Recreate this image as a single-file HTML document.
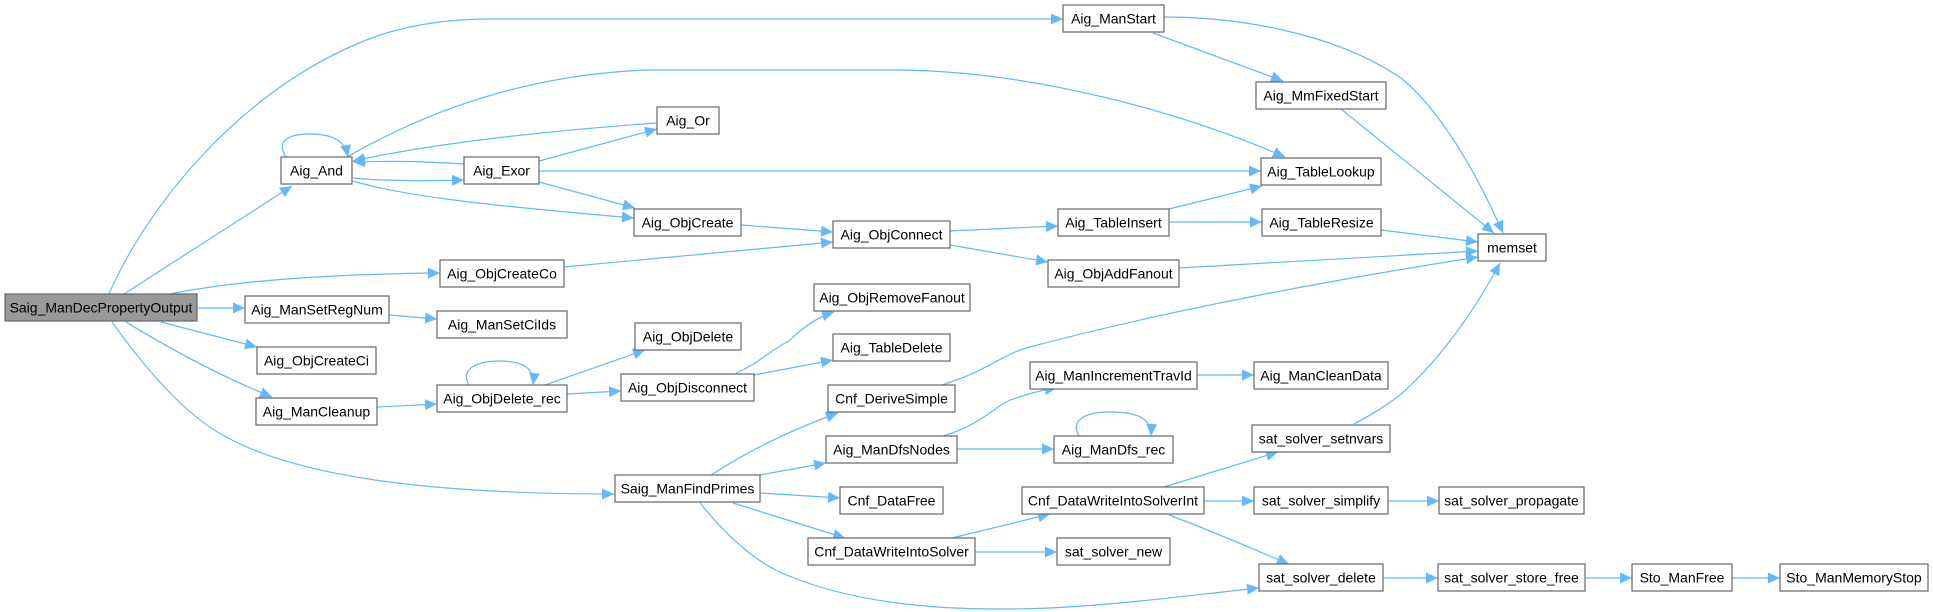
<!DOCTYPE html>
<html><head><meta charset="utf-8"><style>
html,body{margin:0;padding:0;background:#fff;}
svg{display:block;}
text{font-family:"Liberation Sans",Arial,sans-serif;font-size:14px;fill:#000;}
.b{fill:#fff;stroke:#666;stroke-width:1.2;}
.e{fill:none;stroke:#63b8ff;stroke-width:1.2;}
</style></head><body>
<svg width="1933" height="612" viewBox="0 0 1933 612" xmlns="http://www.w3.org/2000/svg">
<defs>
<marker id="a" markerUnits="userSpaceOnUse" markerWidth="13" markerHeight="11" refX="12" refY="5.5" orient="auto">
<path d="M0,0 L12,5.5 L0,11 Z" fill="#63b8ff"/>
</marker>
</defs>
<g class="e" marker-end="url(#a)">
<path d="M109,294 C150,200 250,80 380,35 Q430,19 490,19 L1063,19"/>
<path d="M124,294 L292,186"/>
<path d="M170,294 C240,280 330,274 440,273"/>
<path d="M197,308 L245,308"/>
<path d="M161,322 L257,347"/>
<path d="M126,322 C180,355 230,380 272,397"/>
<path d="M112,322 C150,375 190,420 232,440 C300,475 420,494 614,494"/>
<path d="M286,157 C275,140 290,134 310,134 C335,134 345,142 348,157"/>
<path d="M347,157 C420,115 520,75 647,70 L900,70 C1050,72 1200,120 1285,157"/>
<path d="M464,164 C420,161 390,161 353,162"/>
<path d="M657,123 C560,130 440,142 353,161"/>
<path d="M353,178 C380,181 430,181 464,180"/>
<path d="M353,181 C400,195 470,204 634,218"/>
<path d="M539,161 L657,129"/>
<path d="M539,171 L1261,171"/>
<path d="M539,182 L635,208"/>
<path d="M741,225 L833,232"/>
<path d="M564,267 L833,242"/>
<path d="M950,231 L1058,226"/>
<path d="M950,245 L1048,262"/>
<path d="M1169,209 L1262,186"/>
<path d="M1169,222 L1262,222"/>
<path d="M1164,17 C1230,17 1330,30 1401,78 C1440,110 1475,170 1503,233"/>
<path d="M1153,33 L1283,81"/>
<path d="M1341,109 L1494,233"/>
<path d="M1381,230 L1478,242"/>
<path d="M1179,268 L1478,251"/>
<path d="M942,385 C990,370 1000,355 1030,347 C1150,315 1300,285 1478,257"/>
<path d="M1354,424 C1370,415 1380,410 1400,395 C1440,360 1475,310 1500,263"/>
<path d="M469,385 C460,370 475,361 500,361 C525,361 535,370 533,385"/>
<path d="M545,385 L645,350"/>
<path d="M567,394 L621,391"/>
<path d="M377,407 L437,404"/>
<path d="M389,315 L437,319"/>
<path d="M736,373 C760,363 770,350 789,341 C800,330 815,318 834,312"/>
<path d="M754,375 L833,360"/>
<path d="M711,475 C750,450 790,430 838,413"/>
<path d="M760,475 L826,463"/>
<path d="M760,493 L840,498"/>
<path d="M733,503 L845,538"/>
<path d="M700,503 C730,540 760,565 789,576 C860,605 950,612 1050,608 C1130,604 1200,594 1259,588"/>
<path d="M943,436 C980,425 990,410 1010,400 C1025,395 1040,390 1057,388"/>
<path d="M957,449 L1054,449"/>
<path d="M1079,436 C1070,420 1085,412 1110,412 C1140,412 1152,420 1151,436"/>
<path d="M1197,375 L1254,375"/>
<path d="M952,538 L1050,514"/>
<path d="M975,552 L1057,552"/>
<path d="M1164,487 L1278,452"/>
<path d="M1204,501 L1254,501"/>
<path d="M1169,515 C1210,530 1250,548 1289,564"/>
<path d="M1388,501 L1439,501"/>
<path d="M1383,578 L1438,578"/>
<path d="M1585,578 L1632,578"/>
<path d="M1732,578 L1780,578"/>
</g>
<g>
<rect x="5" y="294" width="192" height="27" fill="#999" stroke="#666" stroke-width="1.2"/>
<text x="101" y="312.5" text-anchor="middle">Saig_ManDecPropertyOutput</text>
<rect class="b" x="281" y="157" width="71" height="27"/><text x="316.5" y="175.5" text-anchor="middle">Aig_And</text>
<rect class="b" x="464" y="157" width="75" height="27"/><text x="501.5" y="175.5" text-anchor="middle">Aig_Exor</text>
<rect class="b" x="657" y="107" width="62" height="27"/><text x="688" y="125.5" text-anchor="middle">Aig_Or</text>
<rect class="b" x="634" y="209" width="107" height="27"/><text x="687.5" y="227.5" text-anchor="middle">Aig_ObjCreate</text>
<rect class="b" x="440" y="260" width="124" height="27"/><text x="502" y="278.5" text-anchor="middle">Aig_ObjCreateCo</text>
<rect class="b" x="245" y="296" width="144" height="27"/><text x="317" y="314.5" text-anchor="middle">Aig_ManSetRegNum</text>
<rect class="b" x="437" y="311" width="130" height="27"/><text x="502" y="329.5" text-anchor="middle">Aig_ManSetCiIds</text>
<rect class="b" x="257" y="347" width="119" height="27"/><text x="316.5" y="365.5" text-anchor="middle">Aig_ObjCreateCi</text>
<rect class="b" x="256" y="398" width="121" height="27"/><text x="316.5" y="416.5" text-anchor="middle">Aig_ManCleanup</text>
<rect class="b" x="437" y="385" width="130" height="27"/><text x="502" y="403.5" text-anchor="middle">Aig_ObjDelete_rec</text>
<rect class="b" x="635" y="323" width="106" height="27"/><text x="688" y="341.5" text-anchor="middle">Aig_ObjDelete</text>
<rect class="b" x="621" y="374" width="133" height="27"/><text x="687.5" y="392.5" text-anchor="middle">Aig_ObjDisconnect</text>
<rect class="b" x="615" y="475" width="145" height="27"/><text x="687.5" y="493.5" text-anchor="middle">Saig_ManFindPrimes</text>
<rect class="b" x="1063" y="5" width="101" height="27"/><text x="1113.5" y="23.5" text-anchor="middle">Aig_ManStart</text>
<rect class="b" x="1256" y="82" width="130" height="27"/><text x="1321" y="100.5" text-anchor="middle">Aig_MmFixedStart</text>
<rect class="b" x="1261" y="158" width="120" height="27"/><text x="1321" y="176.5" text-anchor="middle">Aig_TableLookup</text>
<rect class="b" x="833" y="221" width="117" height="27"/><text x="891.5" y="239.5" text-anchor="middle">Aig_ObjConnect</text>
<rect class="b" x="1058" y="209" width="111" height="27"/><text x="1113.5" y="227.5" text-anchor="middle">Aig_TableInsert</text>
<rect class="b" x="1262" y="209" width="119" height="27"/><text x="1321.5" y="227.5" text-anchor="middle">Aig_TableResize</text>
<rect class="b" x="1048" y="260" width="131" height="27"/><text x="1113.5" y="278.5" text-anchor="middle">Aig_ObjAddFanout</text>
<rect class="b" x="814" y="284" width="156" height="27"/><text x="892" y="302.5" text-anchor="middle">Aig_ObjRemoveFanout</text>
<rect class="b" x="833" y="334" width="117" height="27"/><text x="891.5" y="352.5" text-anchor="middle">Aig_TableDelete</text>
<rect class="b" x="828" y="385" width="127" height="27"/><text x="891.5" y="403.5" text-anchor="middle">Cnf_DeriveSimple</text>
<rect class="b" x="1030" y="362" width="167" height="27"/><text x="1113.5" y="380.5" text-anchor="middle">Aig_ManIncrementTravId</text>
<rect class="b" x="1254" y="362" width="134" height="27"/><text x="1321" y="380.5" text-anchor="middle">Aig_ManCleanData</text>
<rect class="b" x="826" y="436" width="131" height="27"/><text x="891.5" y="454.5" text-anchor="middle">Aig_ManDfsNodes</text>
<rect class="b" x="1054" y="436" width="119" height="27"/><text x="1113.5" y="454.5" text-anchor="middle">Aig_ManDfs_rec</text>
<rect class="b" x="1252" y="425" width="138" height="27"/><text x="1321" y="443.5" text-anchor="middle">sat_solver_setnvars</text>
<rect class="b" x="840" y="487" width="103" height="27"/><text x="891.5" y="505.5" text-anchor="middle">Cnf_DataFree</text>
<rect class="b" x="1022" y="487" width="182" height="27"/><text x="1113" y="505.5" text-anchor="middle">Cnf_DataWriteIntoSolverInt</text>
<rect class="b" x="1254" y="487" width="134" height="27"/><text x="1321" y="505.5" text-anchor="middle">sat_solver_simplify</text>
<rect class="b" x="808" y="538" width="167" height="27"/><text x="891.5" y="556.5" text-anchor="middle">Cnf_DataWriteIntoSolver</text>
<rect class="b" x="1057" y="538" width="113" height="27"/><text x="1113.5" y="556.5" text-anchor="middle">sat_solver_new</text>
<rect class="b" x="1259" y="564" width="124" height="27"/><text x="1321" y="582.5" text-anchor="middle">sat_solver_delete</text>
<rect class="b" x="1478" y="234" width="68" height="27"/><text x="1512" y="252.5" text-anchor="middle">memset</text>
<rect class="b" x="1439" y="487" width="145" height="27"/><text x="1511.5" y="505.5" text-anchor="middle">sat_solver_propagate</text>
<rect class="b" x="1438" y="564" width="147" height="27"/><text x="1511.5" y="582.5" text-anchor="middle">sat_solver_store_free</text>
<rect class="b" x="1632" y="564" width="100" height="27"/><text x="1682" y="582.5" text-anchor="middle">Sto_ManFree</text>
<rect class="b" x="1780" y="564" width="148" height="27"/><text x="1854" y="582.5" text-anchor="middle">Sto_ManMemoryStop</text>
</g>
</svg>
</body></html>
